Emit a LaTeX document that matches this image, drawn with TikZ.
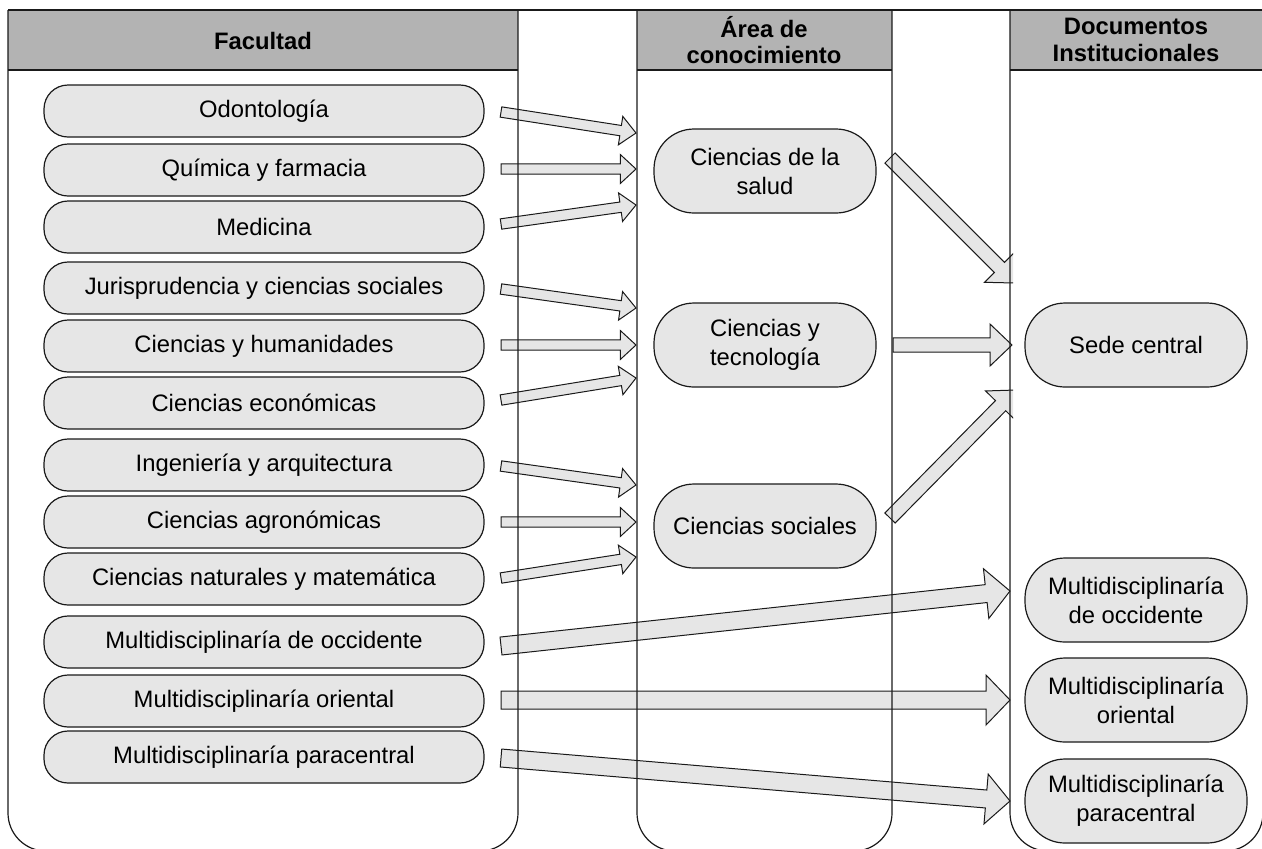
\documentclass[tikz,border=0pt]{standalone}
\usepackage{fontspec}
\setmainfont{Liberation Sans}
\usetikzlibrary{calc}
\definecolor{boxgray}{HTML}{E6E6E6}
\definecolor{headgray}{HTML}{B3B3B3}
\definecolor{linec}{HTML}{1A1A1A}
% #1 shaft half width, #2 head half width, #3 head length, #4 tail, #5 tip
\newcommand\blockarrow[5]{%
  \coordinate (bah) at ($(#5)!#3!(#4)$);
  \draw[arrowstyle] ($(#4)!#1!90:(#5)$) -- ($(bah)!#1!90:(#5)$) -- ($(bah)!#2!90:(#5)$) -- (#5)
    -- ($(bah)!#2!-90:(#5)$) -- ($(bah)!#1!-90:(#5)$) -- ($(#4)!#1!-90:(#5)$) -- cycle;
}
\tikzset{
  lane/.style={draw=linec, line width=0.6pt, rounded corners=19pt},
  sep/.style={draw=linec, line width=0.6pt},
  fac/.style={draw=linec, fill=boxgray, rounded corners=12pt, minimum width=220pt,
    minimum height=26pt, inner sep=0pt, line width=0.6pt},
  area/.style={draw=linec, fill=boxgray, rounded corners=20pt, minimum width=111pt,
    minimum height=42pt, inner sep=0pt, align=center, line width=0.6pt},
  arrowstyle/.style={draw=linec, fill=boxgray, line width=0.5pt, line join=miter},
  head/.style={font=\fontsize{11.9}{13.3}\selectfont\bfseries, align=center, inner sep=0pt}
}
\begin{document}
\begin{tikzpicture}[x=0.5pt, y=-0.5pt, font=\fontsize{11.9}{14.5}\selectfont]
\useasboundingbox (0,0) rectangle (1262,848);
\clip (0,0) rectangle (1262,848);
% header fills
\fill[headgray] (8,10) rectangle (518,70);
\fill[headgray] (637,10) rectangle (892,70);
\fill[headgray] (1010,10) rectangle (1264,70);
% arrow end points
\coordinate (s1) at (501,112);  \coordinate (t1) at (636,133);
\coordinate (s2) at (501,169);  \coordinate (t2) at (636,169);
\coordinate (s3) at (501,224);  \coordinate (t3) at (636,205);
\coordinate (s4) at (501,289);  \coordinate (t4) at (636,308);
\coordinate (s5) at (501,345);  \coordinate (t5) at (636,345);
\coordinate (s6) at (501,400);  \coordinate (t6) at (636,378);
\coordinate (s7) at (501,466);  \coordinate (t7) at (636,485);
\coordinate (s8) at (501,522);  \coordinate (t8) at (636,522);
\coordinate (s9) at (501,578);  \coordinate (t9) at (636,557);
\coordinate (s10) at (501,646); \coordinate (t10) at (1010,591);
\coordinate (s11) at (501,700); \coordinate (t11) at (1010,700);
\coordinate (s12) at (501,758); \coordinate (t12) at (1010,801);
\coordinate (u1) at (890,158);  \coordinate (v1) at (1015,283);
\coordinate (u2) at (893,345);  \coordinate (v2) at (1012,345);
\coordinate (u3) at (890,518);  \coordinate (v3) at (1016,390);
% small arrows
\foreach \i in {1,...,9} {\blockarrow{2.6pt}{7.2pt}{7.8pt}{s\i}{t\i}}
% big arrows
\foreach \i in {10,11,12} {\blockarrow{4.5pt}{12.5pt}{12pt}{s\i}{t\i}}
% middle -> right arrows
\begin{scope}
  \clip (880,0) rectangle (1013,848);
  \foreach \i in {1,2,3} {\blockarrow{3.6pt}{10.5pt}{11pt}{u\i}{v\i}}
\end{scope}
% lanes
\draw[sep] (8,10) -- (1264,10);
\draw[sep] (8,70) -- (518,70);
\draw[sep] (637,70) -- (892,70);
\draw[sep] (1010,70) -- (1264,70);
\draw[lane] (8,10) -- (8,851) -- (518,851) -- (518,10);
\draw[lane] (637,10) -- (637,851) -- (892,851) -- (892,10);
\draw[lane] (1010,10) -- (1010,851) -- (1263,851) -- (1263,10);
% headers
\node[head] (h1) at (263,41) {Facultad};
\node[head] (h2) at (764,40) {Área de\\conocimiento};
\node[head] (h3) at (1136,40) {Documentos\\Institucionales};
% facultades
\node[fac] (f1) at (264,111) {Odontología};
\node[fac] (f2) at (264,170) {Química y farmacia};
\node[fac] (f3) at (264,227) {Medicina};
\node[fac] (f4) at (264,288) {Jurisprudencia y ciencias sociales};
\node[fac] (f5) at (264,346) {Ciencias y humanidades};
\node[fac] (f6) at (264,403) {Ciencias económicas};
\node[fac] (f7) at (264,465) {Ingeniería y arquitectura};
\node[fac] (f8) at (264,522) {Ciencias agronómicas};
\node[fac] (f9) at (264,579) {Ciencias naturales y matemática};
\node[fac] (f10) at (264,642) {Multidisciplinaría de occidente};
\node[fac] (f11) at (264,701) {Multidisciplinaría oriental};
\node[fac] (f12) at (264,757) {Multidisciplinaría paracentral};
% areas
\node[area] (m1) at (765,171) {Ciencias de la\\salud};
\node[area] (m2) at (765,345) {Ciencias y\\tecnología};
\node[area] (m3) at (765,526) {Ciencias sociales};
% documentos
\node[area] (r1) at (1136,345) {Sede central};
\node[area] (r2) at (1136,600) {Multidisciplinaría\\de occidente};
\node[area] (r3) at (1136,700) {Multidisciplinaría\\oriental};
\node[area] (r4) at (1136,801) {Multidisciplinaría\\paracentral};
\end{tikzpicture}
\end{document}
